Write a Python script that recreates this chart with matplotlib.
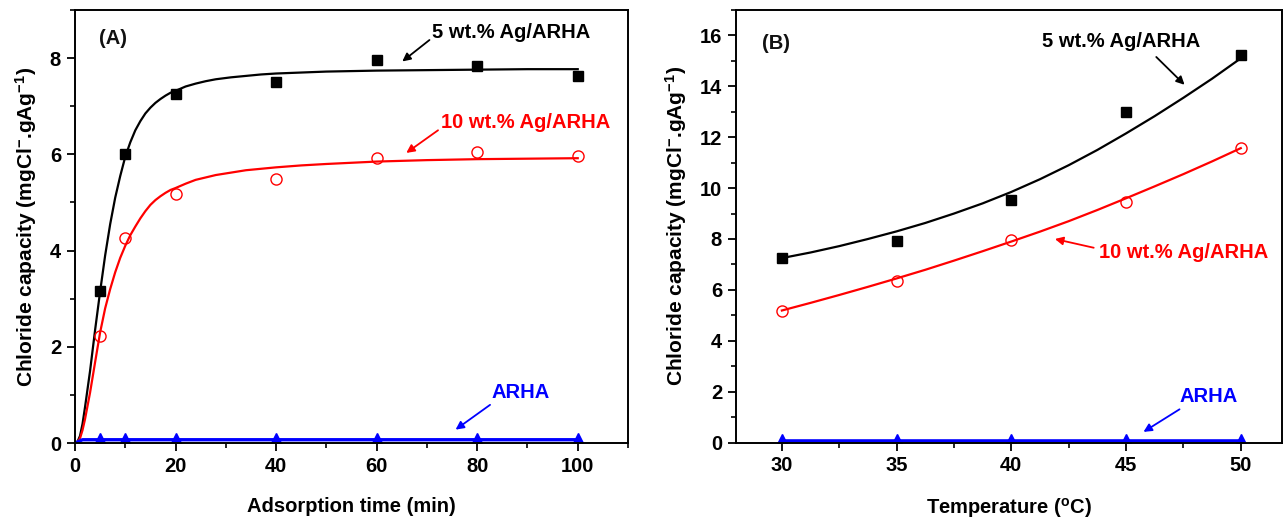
import numpy as np
import matplotlib
matplotlib.use('Agg')
import matplotlib.pyplot as plt
from matplotlib.ticker import MultipleLocator

plt.rcParams['font.family'] = ['Liberation Sans', 'DejaVu Sans']
plt.rcParams['font.weight'] = 'bold'
plt.rcParams['mathtext.fontset'] = 'custom'
plt.rcParams['mathtext.rm'] = 'Liberation Sans:bold'
plt.rcParams['mathtext.bf'] = 'Liberation Sans:bold'
plt.rcParams['mathtext.default'] = 'bf'

# (A) adsorption time
time_pts = [5, 10, 20, 40, 60, 80, 100]
ag5_time = [3.16, 6.01, 7.26, 7.51, 7.96, 7.83, 7.63]
ag10_time = [2.22, 4.27, 5.17, 5.49, 5.93, 6.05, 5.96]
arha_time = [0.07, 0.07, 0.07, 0.07, 0.07, 0.07, 0.07]

# fitted curves
fit5_t = [0, 0.5, 1, 1.5, 2, 3, 4, 5, 6, 7, 8, 9, 10, 11, 12, 13, 14, 15, 16, 17, 18, 19, 20,
          22, 24, 26, 28, 31, 34, 37, 40, 45, 50, 60, 70, 80, 90, 100]
fit5_y = [0, 0.03, 0.15, 0.4, 0.75, 1.5, 2.35, 3.15, 3.9, 4.55, 5.1, 5.55, 5.95, 6.25, 6.5,
          6.69, 6.85, 6.97, 7.07, 7.15, 7.22, 7.28, 7.32, 7.41, 7.47, 7.52, 7.56, 7.6, 7.63,
          7.66, 7.68, 7.7, 7.72, 7.74, 7.75, 7.76, 7.77, 7.77]
fit10_t = [0, 0.5, 1, 1.5, 2, 3, 4, 5, 6, 7, 8, 9, 10, 11, 12, 13, 14, 15, 16, 17, 18, 19, 20,
           22, 24, 26, 28, 31, 34, 37, 40, 45, 50, 60, 70, 80, 90, 100]
fit10_y = [0, 0.02, 0.1, 0.27, 0.5, 1.05, 1.68, 2.3, 2.8, 3.2, 3.55, 3.85, 4.1, 4.32, 4.5,
           4.67, 4.82, 4.95, 5.05, 5.13, 5.2, 5.26, 5.3, 5.39, 5.47, 5.52, 5.57, 5.62, 5.67,
           5.7, 5.73, 5.77, 5.8, 5.85, 5.88, 5.9, 5.91, 5.92]
fitar_t = [0, 1.5, 100]
fitar_y = [0, 0.07, 0.07]

# (B) temperature
temp_pts = [30, 35, 40, 45, 50]
ag5_temp = [7.27, 7.93, 9.55, 13.0, 15.24]
ag10_temp = [5.19, 6.35, 7.96, 9.45, 11.57]
arha_temp = [0.08, 0.08, 0.08, 0.08, 0.08]

fit_T = [30, 31.25, 32.5, 33.75, 35, 36.25, 37.5, 38.75, 40, 41.25, 42.5, 43.75, 45,
         46.25, 47.5, 48.75, 50]
fit5_T = [7.25, 7.47, 7.72, 8.0, 8.3, 8.63, 9.0, 9.4, 9.85, 10.35, 10.9, 11.5, 12.15,
          12.83, 13.55, 14.3, 15.1]
fit10_T = [5.19, 5.49, 5.8, 6.12, 6.45, 6.79, 7.15, 7.52, 7.9, 8.29, 8.7, 9.14, 9.6,
           10.07, 10.55, 11.05, 11.57]
fitar_T = [0.06, 0.06]

ylab = 'Chloride capacity (mgCl$^{-}$.gAg$^{-1}$)'
fs = 14.5

fig = plt.figure(figsize=(12.84, 5.25), dpi=100)
ax1 = fig.add_axes([0.0584, 0.156, 0.4307, 0.825])
ax2 = fig.add_axes([0.5732, 0.157, 0.4253, 0.824])

def style(ax):
    for s in ax.spines.values():
        s.set_linewidth(1.4)
    ax.tick_params(which='major', direction='out', length=6, width=1.3, labelsize=fs,
                   top=False, right=False, pad=4)
    ax.tick_params(which='minor', direction='out', length=3.5, width=1.2, top=False, right=False)
    for lab in ax.get_xticklabels() + ax.get_yticklabels():
        lab.set_fontweight('bold')

# panel A
ax1.plot(fit5_t, fit5_y, color='black', lw=1.6)
ax1.plot(fit10_t, fit10_y, color='red', lw=1.6)
ax1.plot(fitar_t, fitar_y, color='blue', lw=2.4)
ax1.plot(time_pts, ag5_time, 's', color='black', ms=7.5, ls='none')
ax1.plot(time_pts, ag10_time, 'o', mfc='none', mec='red', mew=1.0, ms=8, ls='none')
ax1.plot(time_pts, arha_time, '^', color='blue', ms=9.5, ls='none')
ax1.set_xlim(0, 110)
ax1.set_ylim(0, 9)
ax1.xaxis.set_major_locator(MultipleLocator(20))
ax1.xaxis.set_minor_locator(MultipleLocator(10))
ax1.yaxis.set_major_locator(MultipleLocator(2))
ax1.yaxis.set_minor_locator(MultipleLocator(1))
ax1.set_xticks([0, 20, 40, 60, 80, 100])
ax1.set_xlabel('Adsorption time (min)', fontsize=fs, fontweight='bold', labelpad=15)
ax1.set_ylabel(ylab, fontsize=15, fontweight='bold', labelpad=8)
style(ax1)
ax1.text(7.5, 8.4, '(A)', fontsize=fs, fontweight='bold', ha='center', va='center', color='#111111')
ax1.annotate('5 wt.% Ag/ARHA', xy=(65.1, 7.93), xytext=(86.8, 8.54), fontsize=fs,
             fontweight='bold', color='black', ha='center', va='center',
             arrowprops=dict(arrowstyle='-|>', color='black', lw=1.3, mutation_scale=12,
                             shrinkA=0, shrinkB=0, relpos=(0.0, 0.2)))
ax1.annotate('10 wt.% Ag/ARHA', xy=(65.9, 6.03), xytext=(89.6, 6.66), fontsize=fs,
             fontweight='bold', color='red', ha='center', va='center',
             arrowprops=dict(arrowstyle='-|>', color='red', lw=1.3, mutation_scale=12,
                             shrinkA=0, shrinkB=0, relpos=(0.0, 0.2)))
ax1.annotate('ARHA', xy=(75.7, 0.28), xytext=(88.6, 1.05), fontsize=fs,
             fontweight='bold', color='blue', ha='center', va='center',
             arrowprops=dict(arrowstyle='-|>', color='blue', lw=1.3, mutation_scale=12,
                             shrinkA=0, shrinkB=0, relpos=(0.0, -0.1)))

# panel B
ax2.plot(fit_T, fit5_T, color='black', lw=1.6)
ax2.plot(fit_T, fit10_T, color='red', lw=1.6)
ax2.plot([30, 50], fitar_T, color='blue', lw=2.6)
ax2.plot(temp_pts, ag5_temp, 's', color='black', ms=7.5, ls='none')
ax2.plot(temp_pts, ag10_temp, 'o', mfc='none', mec='red', mew=1.0, ms=8, ls='none')
ax2.plot(temp_pts, arha_temp, '^', color='blue', ms=9.5, ls='none')
ax2.set_xlim(28, 51.8)
ax2.set_ylim(0, 17)
ax2.xaxis.set_major_locator(MultipleLocator(5))
ax2.xaxis.set_minor_locator(MultipleLocator(2.5))
ax2.yaxis.set_major_locator(MultipleLocator(2))
ax2.yaxis.set_minor_locator(MultipleLocator(1))
ax2.set_xticks([30, 35, 40, 45, 50])
ax2.set_xlabel('Temperature ($^{o}$C)', fontsize=fs, fontweight='bold', labelpad=15)
ax2.set_ylabel(ylab, fontsize=15, fontweight='bold', labelpad=8)
style(ax2)
ax2.text(29.15, 15.7, '(B)', fontsize=fs, fontweight='bold', ha='left', va='center', color='#111111')
ax2.annotate('5 wt.% Ag/ARHA', xy=(47.55, 14.06), xytext=(44.8, 15.75), fontsize=fs,
             fontweight='bold', color='black', ha='center', va='center',
             arrowprops=dict(arrowstyle='-|>', color='black', lw=1.3, mutation_scale=12,
                             shrinkA=0, shrinkB=0, relpos=(0.72, -0.3)))
ax2.annotate('10 wt.% Ag/ARHA', xy=(41.9, 8.0), xytext=(47.5, 7.47), fontsize=fs,
             fontweight='bold', color='red', ha='center', va='center',
             arrowprops=dict(arrowstyle='-|>', color='red', lw=1.3, mutation_scale=12,
                             shrinkA=0, shrinkB=0, relpos=(-0.03, 0.75)))
ax2.annotate('ARHA', xy=(45.76, 0.42), xytext=(48.6, 1.83), fontsize=fs,
             fontweight='bold', color='blue', ha='center', va='center',
             arrowprops=dict(arrowstyle='-|>', color='blue', lw=1.3, mutation_scale=12,
                             shrinkA=0, shrinkB=0, relpos=(0.0, -0.2)))

plt.savefig('out.png', dpi=100)
